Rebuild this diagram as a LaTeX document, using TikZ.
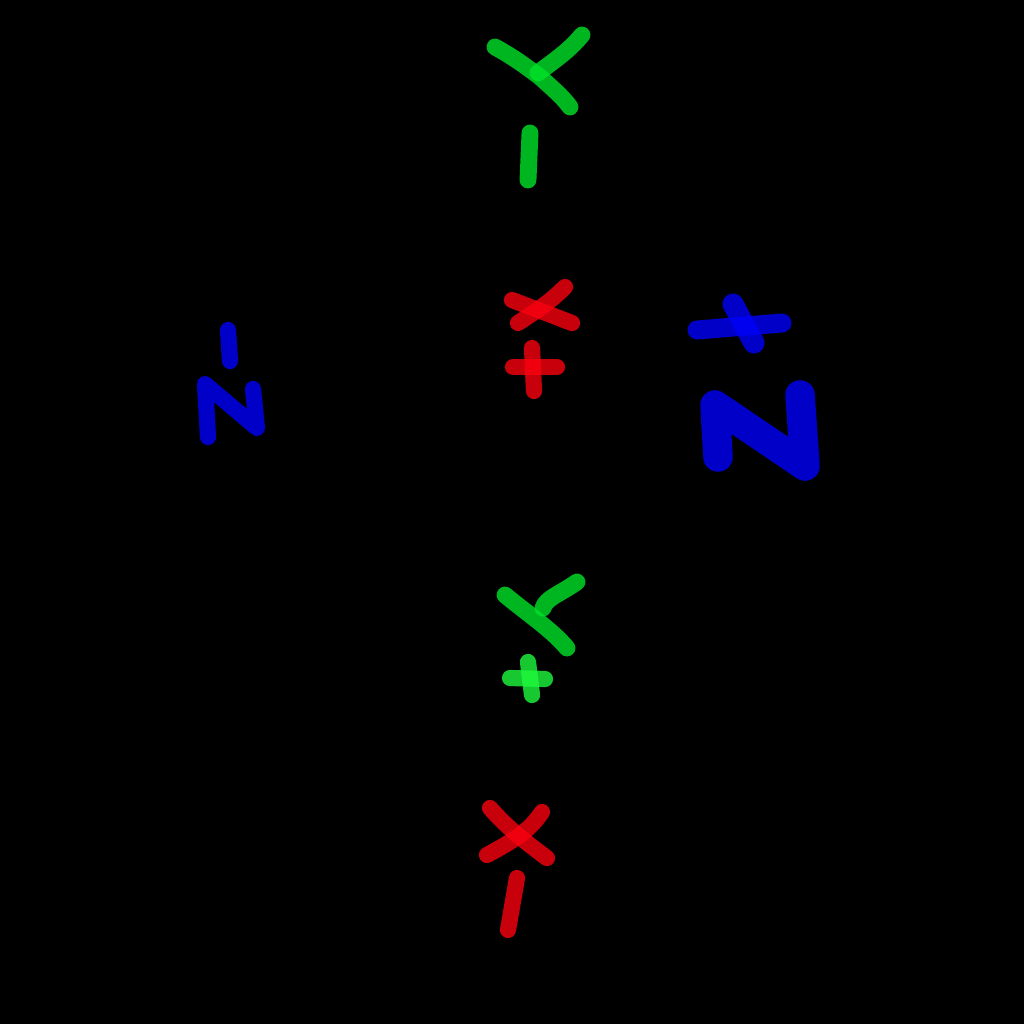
\documentclass[tikz,border=0pt]{standalone}
\tikzset{
  pen/.style={line cap=round, line join=round, draw opacity=0.8},
  ypen/.style={pen, draw={rgb,255:red,0;green,228;blue,40}, line width=4.8pt},
  ypenb/.style={pen, draw={rgb,255:red,30;green,250;blue,60}, line width=4.6pt},
  xpen/.style={pen, draw={rgb,255:red,250;green,0;blue,15}, line width=4.6pt},
  zpen/.style={pen, draw={rgb,255:red,0;green,0;blue,250}, line width=4.6pt},
  zpenbig/.style={pen, draw={rgb,255:red,0;green,0;blue,250}, line width=8.4pt}
}
\begin{document}
\begin{tikzpicture}[x=0.01cm, y=-0.01cm]
    \fill[black] (0,0) rectangle (1024,1024);
    \useasboundingbox (0,0) rectangle (1024,1024);
    \draw[ypen] (495,47) .. controls (515,58) and (528,68) .. (540,77) .. controls (552,88) and (562,96) .. (570,107);
    \draw[ypen] (582,35) .. controls (568,52) and (552,62) .. (538,73);
    \draw[ypen] (530,133) -- (528,180);
    \draw[xpen] (512,300) -- (572,323);
    \draw[xpen] (565,287) .. controls (550,302) and (535,312) .. (518,323);
    \draw[xpen] (513,367) -- (557,367);
    \draw[xpen] (532,348) -- (534,391);
    \draw[zpen] (228,330) -- (230,361);
    \draw[zpen] (208,437) -- (205,384) -- (257,428) -- (253,389);
    \draw[zpen, line width=5.4pt] (697,330) -- (782,323);
    \draw[zpen, line width=6pt] (733,304) -- (754,343);
    \draw[zpenbig] (718,457) -- (715,405) -- (805,466) -- (800,395);
    \draw[ypen] (505,595) .. controls (528,614) and (552,630) .. (567,648);
    \draw[ypen] (577,582) .. controls (560,594) and (546,598) .. (543,608);
    \draw[ypenb] (510,678) -- (545,679);
    \draw[ypenb] (528,662) -- (532,695);
    \draw[xpen] (490,808) .. controls (505,825) and (520,838) .. (547,858);
    \draw[xpen] (542,812) .. controls (530,830) and (515,840) .. (487,855);
    \draw[xpen] (517,878) -- (508,930);
\end{tikzpicture}
\end{document}
